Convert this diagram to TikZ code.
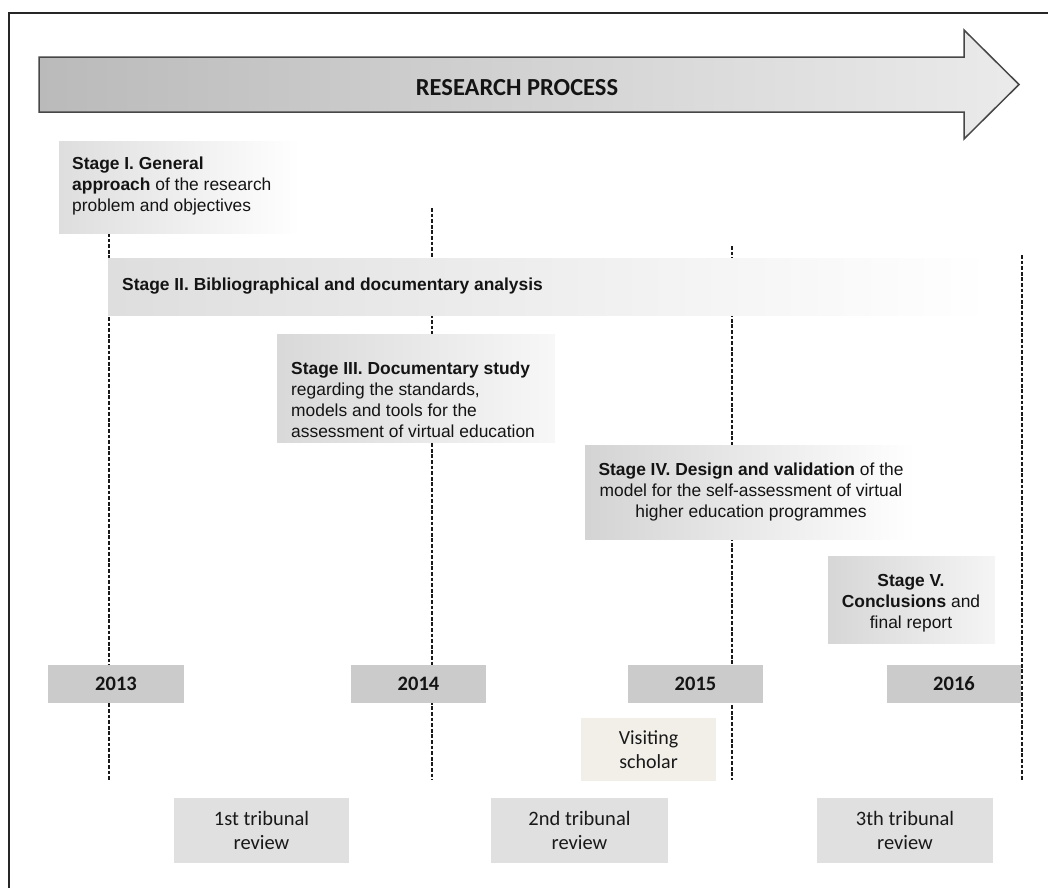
\documentclass[tikz,border=0pt]{standalone}
\usepackage{fontspec}
\setmainfont{Liberation Sans}
\newfontfamily\calfont{Carlito}
\definecolor{visitfill}{HTML}{F2EFE9}
\definecolor{yearfill}{HTML}{CBCBCB}
\definecolor{reviewfill}{HTML}{E0E0E0}
\begin{document}
\begin{tikzpicture}[x=1pt,y=-1pt,
  timeline/.style={line width=1.25pt, black!90, dash pattern=on 3.8pt off 1.8pt},
  stagebox/.style={anchor=north west, inner sep=0pt, left color=black!13, middle color=black!10, right color=white},
  stagetext/.style={inner sep=0pt, text=black!92, font=\fontsize{17.4}{21}\selectfont},
  yearbox/.style={fill=yearfill, minimum width=136pt, minimum height=38pt, inner sep=0pt,
    text=black!92, font=\calfont\bfseries\fontsize{20.5}{24}\selectfont},
  reviewbox/.style={fill=reviewfill, minimum height=65pt, inner sep=0pt, align=center,
    text=black!90, font=\calfont\fontsize{20.5}{24}\selectfont},
  visitbox/.style={fill=visitfill, minimum width=135pt, minimum height=63pt, inner sep=0pt, align=center,
    text=black!90, font=\calfont\fontsize{20}{24}\selectfont}
]
\useasboundingbox (0,0) rectangle (1048,887);

% outer frame (left and top edges)
\draw[line width=1.6pt, black!85] (9,890) -- (9,13) -- (1052,13);

% big process arrow
\shadedraw[left color=black!27, right color=black!8, draw=black!72, line width=1.5pt, line join=miter]
  (39,57) -- (964,57) -- (964,30) -- (1019,84.5) -- (964,139) -- (964,112) -- (39,112) -- cycle;
\node[font=\calfont\bfseries\fontsize{24.5}{28}\selectfont, text=black!92] (title) at (517,88) {RESEARCH PROCESS};

% year markers (dashed verticals)
\coordinate (t13) at (109,233);  \coordinate (b13) at (109,780);
\coordinate (t14) at (432,208);  \coordinate (b14) at (432,780);
\coordinate (t15) at (732,246);  \coordinate (b15) at (732,780);
\coordinate (t16) at (1022,255); \coordinate (b16) at (1022,780);
\draw[timeline] (t13) -- (b13);
\draw[timeline] (t14) -- (b14);
\draw[timeline] (t15) -- (b15);
\draw[timeline] (t16) -- (b16);

% stage boxes
\node[stagebox, minimum width=241pt, minimum height=92pt] (s1box) at (59,141) {};
\node[stagetext, anchor=north west, align=left] (s1) at (72,156.3)
  {\textbf{Stage I. General}\\\textbf{approach} of the research\\problem and objectives};

\node[stagebox, minimum width=882pt, minimum height=57pt] (s2box) at (108,258) {};
\node[stagetext, anchor=base west] (s2) at (122,290)
  {\textbf{Stage II. Bibliographical and documentary analysis}};

\node[stagebox, left color=black!15, middle color=black!10, right color=black!3,
      minimum width=278pt, minimum height=108pt] (s3box) at (277,334) {};
\node[stagetext, anchor=north west, align=left] (s3) at (291,361.3)
  {\textbf{Stage III. Documentary study}\\regarding the standards,\\models and tools for the\\assessment of virtual education};

\node[stagebox, left color=black!17, middle color=black!10, right color=white,
      minimum width=330pt, minimum height=94pt] (s4box) at (585,445) {};
\node[stagetext, anchor=north, align=center] (s4) at (751,462.3)
  {\textbf{Stage IV. Design and validation} of the\\model for the self-assessment of virtual\\higher education programmes};

\node[stagebox, left color=black!16, middle color=black!10, right color=black!4,
      minimum width=167pt, minimum height=87pt] (s5box) at (828,556) {};
\node[stagetext, anchor=north, align=center] (s5) at (911,574.3)
  {\textbf{Stage V.}\\\textbf{Conclusions} and\\final report};

% year labels
\node[yearbox] (y13) at (116,684) {2013};
\node[yearbox, minimum width=135pt] (y14) at (418.5,684) {2014};
\node[yearbox, minimum width=135pt] (y15) at (695.5,684) {2015};
\node[yearbox, minimum width=134pt] (y16) at (954,684) {2016};

% visiting period
\node[visitbox] (visit) at (648.5,749.5) {Visiting\\scholar};

% tribunal reviews
\node[reviewbox, minimum width=175pt] (r1) at (261.5,830.5) {1st tribunal\\review};
\node[reviewbox, minimum width=177pt] (r2) at (579.5,830.5) {2nd tribunal\\review};
\node[reviewbox, minimum width=176pt] (r3) at (905,830.5) {3th tribunal\\review};
\end{tikzpicture}
\end{document}
